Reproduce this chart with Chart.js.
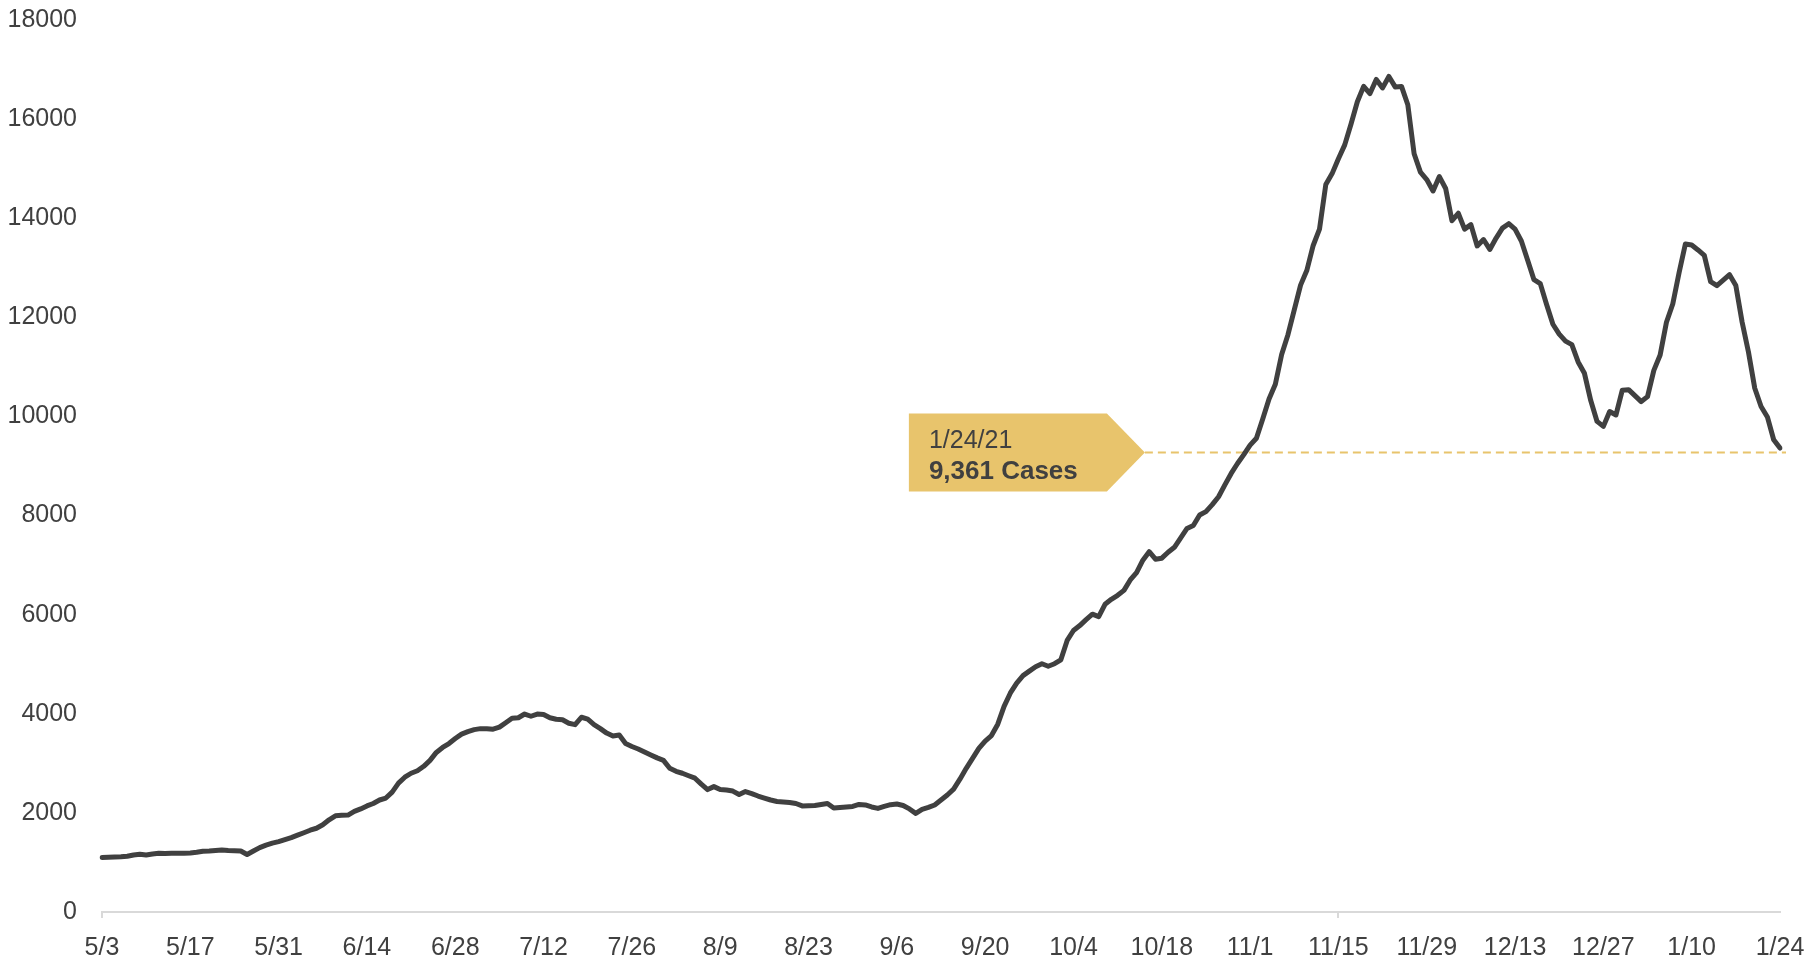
<!DOCTYPE html>
<html>
<head>
<meta charset="utf-8">
<script src="https://cdn.jsdelivr.net/npm/chart.js@4.4.0/dist/chart.umd.min.js"></script>
<style>
  html, body { margin: 0; padding: 0; background: #fff; }
  #wrap { width: 1810px; height: 961px; }
</style>
</head>
<body>
<div id="wrap"><canvas id="chart" width="1810" height="961"></canvas></div>
<script>
// daily 7-day average cases, 5/3/2020 -> 1/24/2021
const cases = [
  1100, 1105, 1110, 1115, 1125, 1150, 1165, 1150, 1170, 1185,
  1180, 1185, 1185, 1185, 1190, 1205, 1225, 1230, 1240, 1250,
  1240, 1235, 1230, 1160, 1230, 1300, 1350, 1390, 1420, 1460,
  1500, 1550, 1600, 1650, 1690, 1760, 1860, 1940, 1950, 1955,
  2030, 2080, 2140, 2190, 2260, 2300, 2420, 2600, 2720, 2800,
  2850, 2940, 3060, 3220, 3320, 3400, 3500, 3590, 3640, 3680,
  3700, 3700, 3690, 3730, 3820, 3910, 3920, 3995, 3950, 3995,
  3985, 3920, 3890, 3880, 3810, 3780, 3930, 3890, 3780, 3700,
  3610, 3550, 3570, 3400, 3340, 3290, 3230, 3170, 3110, 3060,
  2900, 2840, 2800, 2750, 2700, 2580, 2470, 2530, 2470, 2460,
  2440, 2370, 2430, 2390, 2340, 2300, 2260, 2230, 2220, 2210,
  2190, 2140, 2145, 2150, 2170, 2190, 2100, 2110, 2120, 2130,
  2170, 2160, 2120, 2090, 2130, 2165, 2180, 2150, 2080, 1990,
  2070, 2110, 2160, 2260, 2360, 2480, 2680, 2900, 3100, 3300,
  3450, 3560, 3790, 4150, 4420, 4620, 4770, 4860, 4950, 5010,
  4960, 5010, 5090, 5480, 5680, 5780, 5900, 6010, 5960, 6210,
  6310, 6390, 6490, 6700, 6850, 7100, 7270, 7120, 7140, 7260,
  7360, 7550, 7740, 7800, 8010, 8080, 8220, 8380, 8620, 8850,
  9050, 9230, 9420, 9560, 9950, 10350, 10650, 11250, 11650, 12150,
  12650, 12950, 13450, 13780, 14680, 14900, 15200, 15480, 15900, 16350,
  16660, 16515, 16800, 16630, 16860, 16650, 16660, 16290, 15300, 14930,
  14780, 14550, 14840, 14600, 13950, 14100, 13780, 13870, 13440, 13570,
  13370, 13600, 13800, 13890, 13780, 13540, 13150, 12760, 12680, 12260,
  11860, 11660, 11520, 11450, 11100, 10870, 10320, 9900, 9800, 10100,
  10030, 10530, 10540, 10420, 10300, 10400, 10930, 11240, 11900, 12270,
  12900, 13480, 13460, 13360, 13250, 12720, 12640, 12750, 12860, 12640,
  11900, 11300, 10570, 10200, 9990, 9530, 9361
];

const startDate = new Date(2020, 4, 3);
const tickEvery = 14;
const yMax = 18000;
const yStep = 2000;

const calloutDate = "1/24/21";
const calloutText = "9,361 Cases";

// one label per day: m/d
const days = [];
for (let i = 0; i < cases.length; i++) {
    const d = new Date(startDate);
    d.setDate(d.getDate() + i);
    days.push((d.getMonth() + 1) + "/" + d.getDate());
}

const textColor = "#404040";
const gold = "#e8c46c";

// yellow callout + dashed guide to the last value
const callout = {
    id: "callout",
    beforeDatasetsDraw(chart) {
        const { ctx, chartArea, scales } = chart;
        const y = scales.y.getPixelForValue(cases[cases.length - 1]) + 4.5;
        const tipX = chartArea.left + chartArea.width * 0.6215;
        const half = 39, arrow = 38, w = 236;

        ctx.save();
        ctx.strokeStyle = gold;
        ctx.lineWidth = 2;
        ctx.setLineDash([8, 5]);
        ctx.beginPath();
        ctx.moveTo(tipX, y);
        ctx.lineTo(chartArea.right + 6, y);
        ctx.stroke();
        ctx.setLineDash([]);

        ctx.fillStyle = gold;
        ctx.beginPath();
        ctx.moveTo(tipX - w, y - half);
        ctx.lineTo(tipX - arrow, y - half);
        ctx.lineTo(tipX, y);
        ctx.lineTo(tipX - arrow, y + half);
        ctx.lineTo(tipX - w, y + half);
        ctx.closePath();
        ctx.fill();

        ctx.fillStyle = textColor;
        ctx.textAlign = "left";
        ctx.textBaseline = "alphabetic";
        ctx.font = "25px 'Liberation Sans', Arial, sans-serif";
        ctx.fillText(calloutDate, tipX - w + 20, y - half + 34);
        ctx.font = "bold 26px 'Liberation Sans', Arial, sans-serif";
        ctx.fillText(calloutText, tipX - w + 20, y - half + 65);
        ctx.restore();
    }
};

Chart.defaults.font.family = "'Liberation Sans', Arial, sans-serif";

new Chart(document.getElementById("chart"), {
    type: "line",
    data: {
        labels: days,
        datasets: [{
            data: cases,
            borderColor: "#404040",
            borderWidth: 5,
            pointRadius: 0,
            tension: 0,
            borderJoinStyle: "round",
            borderCapStyle: "round"
        }]
    },
    options: {
        responsive: false,
        animation: false,
        devicePixelRatio: 1,
        layout: { padding: { top: 20, right: 30, left: 0, bottom: 0 } },
        plugins: {
            legend: { display: false },
            tooltip: { enabled: false }
        },
        scales: {
            x: {
                type: "category",
                offset: false,
                border: { display: true, color: "#d9d9d9", width: 2 },
                grid: {
                    drawOnChartArea: false,
                    drawTicks: true,
                    tickLength: 6,
                    lineWidth: 2,
                    color: (c) => (c.index % tickEvery === 0 ? "#d9d9d9" : "rgba(0,0,0,0)")
                },
                ticks: {
                    autoSkip: false,
                    maxRotation: 0,
                    minRotation: 0,
                    padding: 15,
                    color: textColor,
                    font: { size: 25 },
                    callback: (v, i) => (i % tickEvery === 0 ? days[i] : null)
                },
                afterFit(scale) {
                    scale.height = 49;
                    scale.paddingLeft = 0;
                    scale.paddingRight = 0;
                }
            },
            y: {
                min: 0,
                max: yMax,
                border: { display: false },
                grid: { display: false, drawTicks: false },
                ticks: {
                    stepSize: yStep,
                    padding: 25,
                    color: textColor,
                    font: { size: 25 },
                    callback: (v) => String(v)
                },
                afterFit(scale) {
                    scale.width = 102;
                    scale.paddingTop = 0;
                    scale.paddingBottom = 0;
                }
            }
        }
    },
    plugins: [callout]
});
</script>
</body>
</html>
